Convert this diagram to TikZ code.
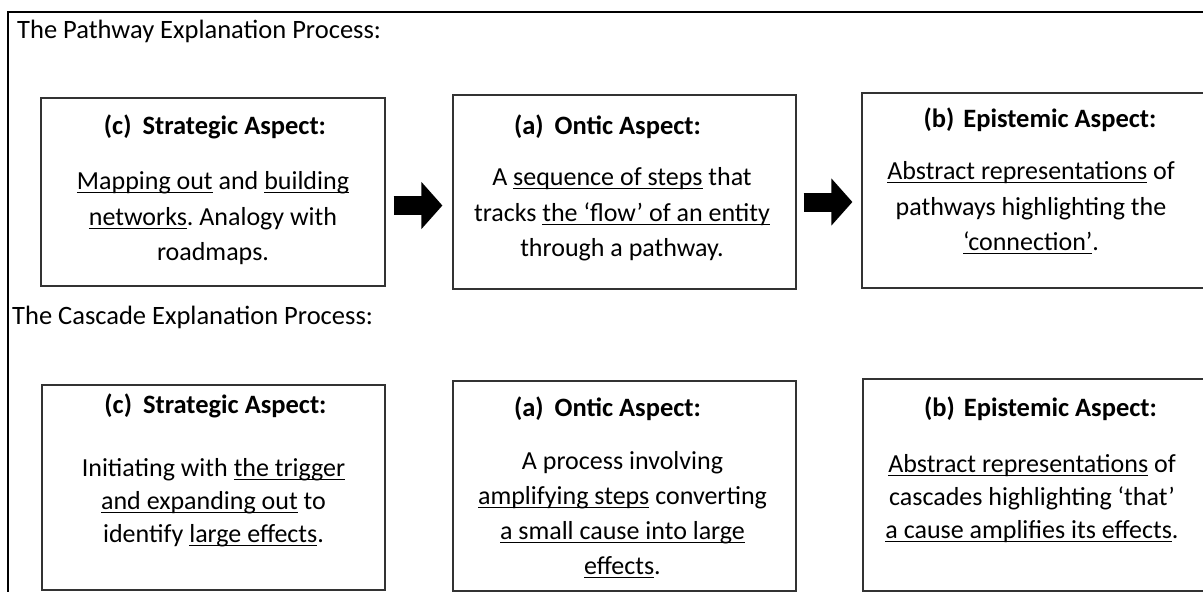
\documentclass[tikz,border=0pt]{standalone}
\usepackage{fontspec}
\setmainfont{Carlito}
\usetikzlibrary{positioning,calc,arrows.meta}
\frenchspacing

\newsavebox\ulinebox
\newcommand{\uln}[1]{\sbox\ulinebox{#1}\rlap{\rule[-3.6pt]{\wd\ulinebox}{1pt}}\usebox\ulinebox}

\tikzset{
  aspect/.style={draw=black!80, line width=1.2pt, inner sep=0pt},
  heading/.style={font=\fontsize{26.5pt}{30pt}\selectfont\bfseries, anchor=base, inner sep=0pt},
  body/.style={font=\fontsize{26pt}{#1}\selectfont, align=center, anchor=north, inner sep=0pt,
    execute at begin node=\rule{0pt}{22pt}},
  body/.default=35.5pt,
  title/.style={font=\fontsize{26.5pt}{30pt}\selectfont, anchor=base west, inner sep=0pt},
  bigarrow/.style={line width=19pt, -{Triangle[width=46pt,length=21pt]}},
}

\begin{document}
\begin{tikzpicture}[x=1pt,y=-1pt]
    \useasboundingbox (0,0) rectangle (1203,592);
    \clip (0,0) rectangle (1203,592);
    % Frame
    \draw[line width=2pt] (8,12) rectangle (1225,615);

    % Pathway process
    \node[title] (ptitle) at (17,38) {The Pathway Explanation Process:};
    \node[aspect, minimum width=344pt, minimum height=188pt] (pc) at (213,192) {};
    \node[aspect, minimum width=343pt, minimum height=194pt] (pa) at (624.5,192) {};
    \node[aspect, minimum width=343pt, minimum height=195pt] (pb) at (1033.5,190.5) {};

    \node[heading] (pch) at ([xshift=2pt,yshift=-37pt]pc.north) {(c)\hspace{11pt}Strategic Aspect:};
    \node[body] (pcb) at ([yshift=-74pt]pc.north)
        {\uln{Mapping out} and \uln{building}\\\uln{networks}. Analogy with\\roadmaps.};
    \node[heading] (pah) at ([xshift=-17pt,yshift=-40pt]pa.north) {(a)\hspace{11pt}Ontic Aspect:};
    \node[body] (pab) at ([xshift=-2.5pt,yshift=-73pt]pa.north)
        {A \uln{sequence of steps} that\\tracks \uln{the ‘flow’ of an entity}\\through a pathway.};
    \node[heading] (pbh) at ([xshift=6.5pt,yshift=-35pt]pb.north) {(b)\hspace{9pt}Epistemic Aspect:};
    \node[body] (pbb) at ([xshift=-2.5pt,yshift=-69pt]pb.north)
        {\uln{Abstract representations} of\\pathways highlighting the\\\uln{‘connection’}.};

    \draw[bigarrow, shorten <=8pt, shorten >=10pt] ([yshift=-13.5pt]pc.east) -- ([yshift=-13.5pt]pc.east -| pa.west);
    \draw[bigarrow, shorten <=7pt, shorten >=9pt] ([yshift=-10pt]pa.east) -- ([yshift=-10pt]pa.east -| pb.west);

    % Cascade process
    \node[title] (ctitle) at (12,324) {The Cascade Explanation Process:};
    \node[aspect, minimum width=343pt, minimum height=205pt] (cc) at (213.5,487.5) {};
    \node[aspect, minimum width=343pt, minimum height=210pt] (ca) at (624.5,486) {};
    \node[aspect, minimum width=343pt, minimum height=212pt] (cb) at (1034.5,485) {};

    \node[heading] (cch) at ([xshift=2pt,yshift=-29pt]cc.north) {(c)\hspace{11pt}Strategic Aspect:};
    \node[body=33pt] (ccb) at ([yshift=-74pt]cc.north)
        {Initiating with \uln{the trigger}\\\uln{and expanding out} to\\identify \uln{large effects}.};
    \node[heading] (cah) at ([xshift=-17pt,yshift=-36pt]ca.north) {(a)\hspace{11pt}Ontic Aspect:};
    \node[body=35pt] (cab) at ([xshift=-2pt,yshift=-71pt]ca.north)
        {A process involving\\\uln{amplifying steps} converting\\\uln{a small cause into large}\\\uln{effects}.};
    \node[heading] (cbh) at ([xshift=6pt,yshift=-38pt]cb.north) {(b)\hspace{9pt}Epistemic Aspect:};
    \node[body=33pt] (cbb) at ([xshift=-2.5pt,yshift=-76pt]cb.north)
        {\uln{Abstract representations} of\\cascades highlighting ‘that’\\\uln{a cause amplifies its effects}.};
\end{tikzpicture}
\end{document}
